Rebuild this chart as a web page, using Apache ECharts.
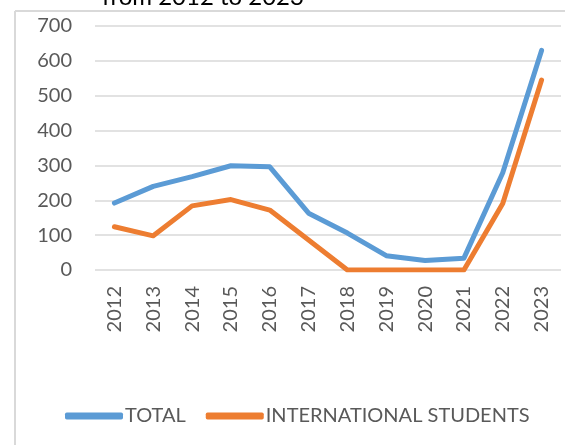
<!DOCTYPE html>
<html>
<head>
<meta charset="utf-8">
<script src="https://cdn.jsdelivr.net/npm/echarts@6/dist/echarts.min.js"></script>
<style>
  html, body { margin: 0; padding: 0; background: #fff; }
  #chart { width: 565px; height: 445px; }
</style>
</head>
<body>
<div id="chart"></div>
<script>
// years on the x axis
const years = ['2012', '2013', '2014', '2015', '2016', '2017', '2018', '2019', '2020', '2021', '2022', '2023'];
// series values
const totalVals = [192, 240, 268, 299, 296, 163, 106, 41, 27, 34, 279, 630];
const intlVals = [124, 98, 184, 202, 172, 86, 0, 0, 0, 0, 191, 545];
const yTicks = { min: 0, max: 700, step: 100 };

function initChart() {
    const chart = echarts.init(document.getElementById('chart'));
    const font = 'Lato, "Open Sans", sans-serif';

    const option = {
        animation: false,
        grid: { left: 95, right: 4, top: 26, bottom: 175 },
        graphic: [
            // chart area border (only top and left visible in the crop)
            { type: 'line', shape: { x1: 15, y1: 11, x2: 565, y2: 11 }, style: { stroke: '#d9d9d9', lineWidth: 2 } },
            { type: 'line', shape: { x1: 15, y1: 11, x2: 15, y2: 445 }, style: { stroke: '#d9d9d9', lineWidth: 2 } },
            // title, cut off by the top edge
            { type: 'text', left: 102, top: -15, style: { text: 'from 2012 to 2023', font: '24px ' + font, fill: '#000' } }
        ],
        legend: {
            top: 401,
            left: 60,
            itemWidth: 58,
            itemHeight: 7,
            itemGap: 20,
            icon: 'roundRect',
            textStyle: { color: '#595959', fontSize: 20, fontFamily: font, padding: [0, 0, 0, -3] },
            data: ['TOTAL', 'INTERNATIONAL STUDENTS']
        },
        xAxis: {
            type: 'category',
            data: years,
            boundaryGap: true,
            axisLine: { show: false },
            axisTick: { show: false },
            axisLabel: { rotate: 90, color: '#595959', fontSize: 20, fontFamily: font, margin: 16 }
        },
        yAxis: {
            type: 'value',
            min: yTicks.min,
            max: yTicks.max,
            interval: yTicks.step,
            axisLine: { show: false },
            axisTick: { show: false },
            axisLabel: { color: '#595959', fontSize: 20, fontFamily: font, margin: 23 },
            splitLine: { lineStyle: { color: '#d9d9d9', width: 1.5 } }
        },
        series: [
            {
                name: 'TOTAL',
                type: 'line',
                data: totalVals,
                symbol: 'none',
                lineStyle: { color: '#5b9bd5', width: 5, cap: 'round', join: 'round' },
                itemStyle: { color: '#5b9bd5' }
            },
            {
                name: 'INTERNATIONAL STUDENTS',
                type: 'line',
                data: intlVals,
                symbol: 'none',
                lineStyle: { color: '#ed7d31', width: 5, cap: 'round', join: 'round' },
                itemStyle: { color: '#ed7d31' }
            }
        ]
    };
    chart.setOption(option);
}
window.addEventListener('load', initChart);
</script>
</body>
</html>
